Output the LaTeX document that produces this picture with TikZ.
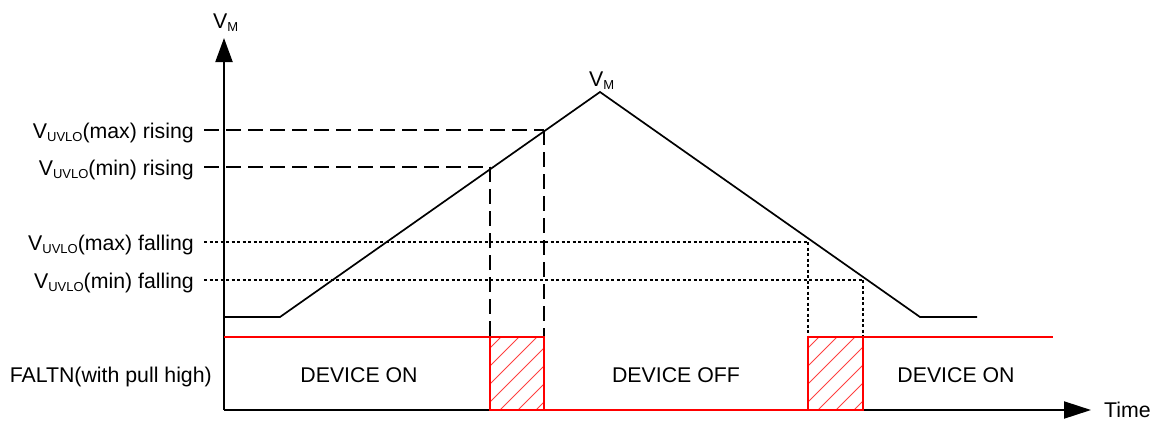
\documentclass[tikz,border=0pt]{standalone}
\usepackage{fontspec}
\setmainfont{Liberation Sans}
\usetikzlibrary{arrows.meta}
\newcommand{\lsub}[1]{\raisebox{-3.5pt}{\fontsize{13}{14}\selectfont #1}}
\begin{document}
\begin{tikzpicture}[x=1pt,y=-1pt,
  font=\fontsize{21.3}{25}\selectfont,
  axis/.style={line width=2pt},
  wave/.style={line width=1.7pt},
  dashline/.style={line width=1.6pt, dash pattern=on 15pt off 7pt},
  dotline/.style={line width=1.5pt, dash pattern=on 3pt off 2.5pt},
  redline/.style={red, line width=1.9pt},
  hatch/.style={red!75, line width=0.9pt},
  lbl/.style={anchor=base east, inner sep=0pt},
  txt/.style={anchor=base, inner sep=0pt}]
\useasboundingbox (0,0) rectangle (1158,421);
% axes
\coordinate (O) at (224,410);
\coordinate (Ytop) at (224,38);
\coordinate (Xend) at (1091,410);
\draw[axis,-{Triangle[length=24pt,width=17pt]}] (O) -- (Ytop);
\draw[axis,-{Triangle[length=27pt,width=17pt]}] (O) -- (Xend);
\node[anchor=base west, inner sep=0pt] (vmax) at (213,28) {V\lsub{M}};
\node[anchor=base west, inner sep=0pt] (time) at (1104,417) {Time};
% waveform
\coordinate (w0) at (224,317);
\coordinate (w1) at (280,317);
\coordinate (pk) at (600,92);
\coordinate (w3) at (920,317);
\coordinate (w4) at (977,317);
\draw[wave, line join=miter] (w0) -- (w1) -- (pk) -- (w3) -- (w4);
\node[anchor=base west, inner sep=0pt] (vmpk) at (589,86) {V\lsub{M}};
% threshold crossings
\coordinate (rmax) at (544,130);
\coordinate (rmin) at (490,167);
\coordinate (fmax) at (808,242);
\coordinate (fmin) at (863,280);
\draw[dashline] (204,130) -- (rmax);
\draw[dashline] (204,167) -- (rmin);
\draw[dotline] (204,242) -- (fmax);
\draw[dotline] (204,280) -- (fmin);
\draw[dashline] (rmax) -- (544,337);
\draw[dashline] (rmin) -- (490,337);
\draw[dotline] (fmax) -- (808,337);
\draw[dotline] (fmin) -- (863,337);
\node[lbl] (l1) at (194,138) {V\lsub{UVLO}(max) rising};
\node[lbl] (l2) at (194,175) {V\lsub{UVLO}(min) rising};
\node[lbl] (l3) at (194,250) {V\lsub{UVLO}(max) falling};
\node[lbl] (l4) at (194,288) {V\lsub{UVLO}(min) falling};
% hatching
\begin{scope}
\clip (490,337) rectangle (544,410);
\foreach \i in {-80,-62,...,60} \draw[hatch] (490+\i,410) -- ++(80,-80);
\end{scope}
\begin{scope}
\clip (808,337) rectangle (863,410);
\foreach \i in {-80,-62,...,60} \draw[hatch] (808+\i,410) -- ++(80,-80);
\end{scope}
% FALTN signal
\draw[redline] (224,337) -- (544,337) -- (544,410);
\draw[redline] (490,337) -- (490,410) -- (863,410) -- (863,337) -- (1053,337);
\draw[redline] (808,410) -- (808,337) -- (863,337);
\node[lbl] (faltn) at (212,382) {FALTN(with pull high)};
\node[txt] (on1) at (359,382) {DEVICE ON};
\node[txt] (off) at (676,382) {DEVICE OFF};
\node[txt] (on2) at (956,382) {DEVICE ON};
\end{tikzpicture}
\end{document}
